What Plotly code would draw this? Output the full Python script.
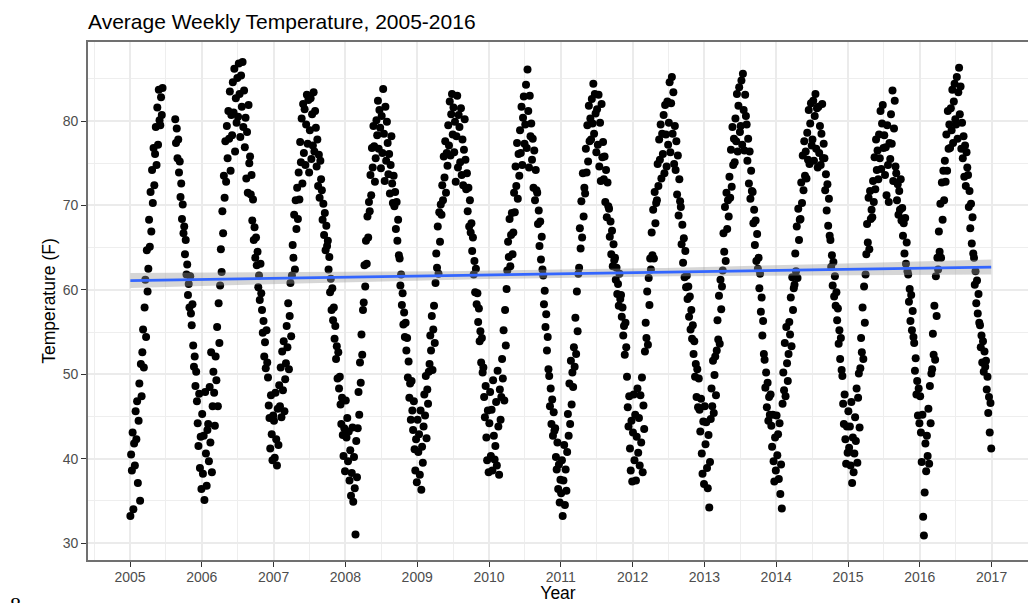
import plotly.graph_objects as go
import numpy as np

# ---- data (8 readings per month) ----
years = list(range(2005, 2017))

temps_2005 = [33.2, 40.5, 38.6, 43.1, 34.0, 41.8, 39.2, 45.6,
              42.3, 46.8, 37.1, 44.5, 48.9, 35.0, 51.2, 47.4,
              52.6, 55.3, 50.8, 57.9, 61.2, 54.4, 64.7, 59.8,
              62.5, 68.3, 65.1, 71.6, 66.9, 74.2, 70.3, 76.8,
              72.4, 76.1, 79.3, 74.8, 81.6, 77.2, 83.7, 80.1,
              79.5, 82.8, 80.7, 83.9, None, None, None, None,
              None, None, None, None, None, None, None, None,
              None, None, None, None, 80.2, 77.4, 79.1, 75.6,
              77.8, 73.9, 75.2, 71.0, 72.6, 68.4, 70.1, 66.7,
              67.5, 64.2, 65.9, 61.8, 63.0, 59.4, 60.7, 57.9,
              61.6, 57.2, 55.8, 58.3, 53.4, 50.9, 52.1, 48.6,
              50.3, 46.8, 44.2, 41.5, 47.7, 38.9, 42.6, 36.4]
temps_2006 = [45.3, 38.2, 42.7, 35.1, 47.9, 40.6, 36.8, 43.4,
              44.1, 39.7, 48.5, 41.9, 52.6, 38.4, 46.2, 50.3,
              47.8, 43.9, 52.1, 49.3, 55.6, 46.2, 58.4, 53.7,
              60.5, 64.8, 62.1, 69.3, 66.7, 73.5, 70.9, 77.6,
              72.8, 79.4, 75.6, 81.2, 77.9, 83.5, 74.1, 80.7,
              78.3, 84.6, 81.0, 86.2, 76.4, 82.7, 79.8, 85.1,
              80.5, 86.8, 83.2, 78.1, 85.4, 81.7, 87.0, 79.3,
              83.6, 76.9, 80.4, 73.2, 78.7, 71.5, 81.9, 75.0,
              75.8, 71.3, 73.6, 68.2, 70.7, 65.9, 67.4, 63.8,
              66.2, 62.9, 64.5, 60.3, 61.7, 58.8, 63.1, 59.6,
              57.6, 54.9, 56.3, 52.1, 53.8, 50.7, 55.2, 51.4,
              49.6, 46.3, 44.8, 41.2, 47.5, 42.9, 39.8, 45.1]
temps_2007 = [44.5, 40.1, 47.8, 42.3, 39.2, 45.9, 41.6, 48.7,
              46.2, 50.8, 44.9, 52.7, 48.1, 53.9, 45.6, 49.4,
              51.3, 55.7, 53.2, 58.4, 50.6, 56.9, 60.8, 54.5,
              61.7, 65.3, 63.8, 68.9, 62.4, 70.6, 67.2, 72.1,
              68.4, 73.9, 70.7, 77.5, 75.1, 80.3, 72.6, 82.0,
              76.2, 81.4, 74.8, 79.6, 83.1, 77.3, 82.5, 73.9,
              78.9, 82.7, 75.5, 80.8, 77.1, 83.4, 76.4, 81.2,
              79.2, 74.6, 77.8, 72.3, 76.0, 70.9, 75.3, 73.1,
              71.8, 68.3, 70.2, 66.5, 69.1, 64.7, 67.6, 65.2,
              65.8, 62.4, 63.9, 59.7, 61.3, 57.6, 60.2, 56.4,
              57.9, 54.2, 55.7, 51.8, 53.3, 49.5, 52.6, 48.3,
              49.7, 46.4, 44.1, 47.2, 42.8, 40.3, 43.6, 38.5]
temps_2008 = [46.9, 42.5, 44.8, 39.7, 43.2, 37.4, 41.0, 35.6,
              38.3, 43.7, 34.9, 40.2, 36.5, 31.0, 42.1, 37.8,
              43.6, 47.9, 45.2, 51.4, 49.0, 54.7, 52.3, 57.6,
              58.5, 62.9, 60.4, 65.8, 63.1, 68.7, 66.2, 70.4,
              69.3, 73.6, 71.2, 76.8, 74.5, 79.4, 77.0, 72.8,
              75.6, 80.1, 78.3, 82.4, 76.7, 81.3, 79.2, 74.4,
              80.6, 76.2, 83.8, 78.5, 72.9, 81.7, 75.3, 79.9,
              77.4, 73.7, 76.1, 71.4, 74.8, 78.2, 72.6, 70.3,
              73.5, 69.9, 71.6, 67.2, 70.4, 65.8, 68.3, 64.1,
              63.7, 60.5, 61.8, 58.2, 59.6, 55.9, 57.3, 54.4,
              56.1, 52.8, 54.3, 49.6, 51.5, 47.2, 48.9, 44.6,
              49.2, 45.7, 43.4, 46.8, 41.1, 38.6, 42.3, 37.2]
temps_2009 = [44.6, 40.8, 42.9, 38.1, 45.7, 36.3, 41.4, 39.5,
              43.8, 47.6, 45.1, 49.8, 42.4, 48.2, 46.5, 50.3,
              51.2, 54.6, 52.8, 56.9, 50.5, 55.3, 58.1, 53.7,
              60.8, 64.3, 62.6, 67.5, 61.9, 69.2, 65.7, 70.1,
              68.9, 72.4, 70.6, 75.8, 73.3, 77.6, 71.5, 76.2,
              74.7, 79.5, 77.1, 82.3, 75.9, 80.8, 83.2, 78.4,
              81.6, 76.3, 79.9, 72.8, 78.2, 83.0, 74.5, 80.7,
              79.3, 75.1, 81.5, 73.6, 77.8, 72.4, 76.6, 80.2,
              75.4, 71.9, 73.8, 69.3, 72.1, 67.5, 70.6, 66.8,
              67.9, 64.6, 66.2, 61.8, 63.4, 59.7, 62.5, 58.3,
              59.6, 56.2, 57.8, 53.9, 55.1, 51.4, 54.3, 50.2,
              50.8, 47.3, 44.9, 48.6, 42.5, 39.8, 45.7, 38.4]
temps_2010 = [44.2, 47.9, 40.3, 45.8, 38.6, 49.3, 42.7, 39.9,
              41.5, 46.7, 39.2, 50.4, 43.8, 38.1, 48.2, 44.6,
              47.3, 51.8, 49.5, 55.2, 46.9, 57.6, 53.4, 60.1,
              62.3, 65.7, 63.9, 68.4, 62.8, 66.5, 69.1, 64.2,
              66.8, 71.5, 69.2, 74.6, 72.3, 77.4, 70.8, 76.1,
              73.5, 78.9, 76.2, 81.7, 74.8, 80.4, 82.9, 77.3,
              79.6, 84.3, 76.8, 86.1, 81.2, 74.5, 83.0, 78.2,
              79.7, 75.4, 77.9, 72.1, 76.5, 70.6, 74.2, 71.8,
              71.5, 67.8, 69.4, 65.2, 68.1, 63.6, 66.3, 62.4,
              61.7, 58.3, 59.9, 55.6, 57.1, 52.8, 54.4, 50.6,
              49.8, 46.2, 48.3, 44.1, 47.0, 42.7, 45.5, 43.3,
              43.6, 40.2, 38.7, 41.9, 36.4, 39.3, 34.8, 37.5]
temps_2011 = [35.9, 39.8, 33.2, 37.4, 41.6, 34.5, 38.7, 36.2,
              40.8, 45.3, 42.7, 48.9, 44.1, 51.6, 46.4, 50.2,
              48.5, 53.2, 50.9, 56.7, 52.4, 59.8, 55.1, 61.9,
              62.6, 67.3, 64.9, 70.5, 66.2, 73.8, 68.7, 72.1,
              71.4, 76.7, 73.9, 79.5, 75.2, 81.8, 77.6, 80.3,
              77.8, 82.6, 79.7, 84.4, 78.5, 83.2, 80.9, 76.3,
              81.4, 77.2, 83.1, 74.6, 79.8, 72.9, 82.0, 75.7,
              77.5, 73.1, 75.8, 70.4, 74.2, 68.6, 72.7, 69.9,
              69.6, 66.3, 68.1, 64.2, 67.0, 62.8, 65.4, 63.5,
              63.8, 61.2, 62.6, 59.5, 60.7, 58.1, 61.9, 58.9,
              59.4, 56.8, 57.9, 54.6, 55.7, 52.3, 56.1, 53.2,
              49.7, 46.1, 43.8, 47.4, 41.2, 38.6, 44.5, 37.3]
temps_2012 = [43.1, 47.6, 39.8, 45.2, 37.4, 42.6, 48.3, 40.7,
              44.8, 39.2, 47.5, 41.9, 49.6, 38.4, 46.3, 43.5,
              52.7, 56.1, 54.3, 59.8, 53.5, 61.4, 58.2, 63.7,
              62.4, 66.8, 64.1, 69.5, 63.7, 71.6, 67.9, 70.3,
              70.6, 74.9, 72.3, 77.8, 75.4, 79.6, 73.2, 78.5,
              76.1, 80.7, 73.8, 81.9, 78.4, 74.6, 82.3, 77.2,
              79.8, 84.6, 76.3, 82.1, 85.2, 78.5, 83.4, 74.9,
              79.4, 74.2, 77.6, 71.3, 75.9, 68.8, 73.1, 70.5,
              69.8, 65.4, 67.7, 63.2, 66.1, 61.5, 64.6, 60.3,
              61.7, 58.9, 60.4, 56.8, 59.2, 55.3, 57.6, 54.2,
              55.8, 52.4, 53.9, 49.7, 51.2, 47.3, 50.6, 46.1,
              49.5, 45.8, 43.2, 47.1, 40.6, 38.2, 44.4, 37.0]
temps_2013 = [46.2, 41.7, 44.3, 38.9, 36.5, 42.8, 34.2, 39.6,
              44.7, 48.3, 46.2, 51.6, 45.4, 49.9, 52.1, 47.5,
              52.8, 56.4, 54.1, 59.3, 53.6, 61.2, 57.7, 60.4,
              62.3, 66.7, 64.5, 69.8, 63.4, 71.5, 67.2, 70.6,
              68.7, 73.4, 70.9, 76.6, 72.2, 79.3, 74.8, 77.9,
              75.1, 80.3, 77.6, 83.2, 76.4, 81.8, 84.0, 78.7,
              79.4, 84.8, 77.2, 85.6, 81.3, 76.5, 83.1, 80.6,
              79.6, 75.3, 77.9, 72.6, 76.4, 70.8, 74.1, 71.7,
              71.6, 67.9, 69.5, 65.3, 68.2, 63.4, 66.6, 62.5,
              63.8, 60.2, 61.9, 57.4, 59.1, 54.6, 56.3, 52.4,
              51.7, 48.4, 50.2, 46.1, 49.0, 44.5, 47.3, 45.2,
              47.6, 43.9, 41.4, 45.2, 39.7, 37.3, 42.5, 38.6]
temps_2014 = [45.1, 40.4, 42.9, 37.6, 44.2, 35.8, 39.3, 34.1,
              46.5, 50.2, 48.1, 53.7, 47.4, 55.6, 51.3, 49.2,
              52.4, 56.2, 54.7, 59.1, 53.3, 61.5, 57.6, 60.2,
              60.6, 64.3, 62.2, 67.5, 61.4, 69.6, 65.9, 68.3,
              68.4, 72.7, 70.3, 75.9, 71.8, 77.6, 73.5, 76.4,
              73.2, 78.6, 75.4, 81.3, 74.9, 79.7, 82.1, 77.1,
              77.8, 82.4, 75.3, 80.6, 83.2, 76.7, 81.5, 74.5,
              81.7, 76.2, 79.4, 74.8, 78.5, 82.0, 75.6, 77.3,
              75.6, 71.8, 73.7, 69.4, 72.5, 67.6, 70.8, 66.4,
              65.9, 62.7, 64.1, 60.5, 63.3, 59.2, 61.6, 58.1,
              59.7, 56.4, 57.8, 53.6, 55.2, 51.8, 54.3, 50.5,
              49.8, 46.5, 44.1, 47.6, 42.3, 39.4, 43.8, 40.7]
temps_2015 = [45.6, 41.3, 43.8, 39.2, 46.7, 37.1, 42.5, 38.4,
              40.6, 44.9, 42.1, 48.3, 39.5, 47.2, 50.1, 43.7,
              50.7, 54.3, 52.6, 57.9, 51.8, 60.4, 56.1, 61.8,
              64.2, 67.8, 65.6, 70.9, 64.8, 71.7, 68.4, 69.5,
              68.6, 72.9, 70.4, 75.7, 71.9, 77.8, 74.2, 76.5,
              73.1, 78.4, 75.6, 81.2, 74.3, 79.7, 81.9, 76.8,
              78.3, 73.6, 76.9, 71.2, 79.5, 74.8, 70.4, 77.4,
              75.5, 80.8, 77.3, 83.6, 72.9, 79.1, 82.4, 74.6,
              73.8, 70.6, 72.5, 68.9, 71.7, 69.5, 73.1, 68.2,
              69.7, 66.4, 67.9, 64.3, 68.5, 63.1, 65.6, 62.2,
              61.8, 58.6, 60.1, 56.3, 59.4, 55.2, 57.5, 54.4,
              53.7, 50.4, 51.9, 47.6, 49.2, 45.1, 48.3, 44.2]
temps_2016 = [47.4, 43.1, 39.6, 45.2, 33.1, 30.9, 36.0, 41.8,
              38.5, 42.7, 40.3, 45.9, 39.4, 48.6, 44.2, 50.1,
              50.6, 54.8, 52.3, 58.1, 51.7, 61.6, 56.9, 63.8,
              62.4, 66.9, 64.5, 70.2, 63.8, 72.7, 68.3, 74.1,
              70.6, 75.3, 72.8, 78.4, 74.1, 81.2, 76.7, 79.6,
              76.8, 81.5, 78.9, 83.7, 77.4, 82.3, 84.4, 80.2,
              79.6, 85.2, 77.9, 83.4, 86.3, 80.8, 84.1, 76.7,
              79.8, 75.6, 78.2, 73.4, 77.1, 72.3, 76.3, 74.5,
              73.6, 69.8, 71.7, 67.3, 70.2, 65.5, 68.6, 64.3,
              63.8, 60.6, 62.2, 58.4, 61.1, 57.2, 59.5, 56.1,
              55.8, 53.2, 54.6, 51.4, 53.9, 50.3, 52.7, 50.9,
              51.6, 48.2, 49.7, 45.4, 47.3, 43.1, 46.6, 41.2]

yearly_temps = [temps_2005, temps_2006, temps_2007, temps_2008, temps_2009, temps_2010,
                temps_2011, temps_2012, temps_2013, temps_2014, temps_2015, temps_2016]

# linear-trend (geom_smooth, method = "lm")
trend_temps = [61.1, 62.7]                     # fitted value at first / last observation
band_years = [2005, 2007, 2009, 2011, 2013, 2015, 2017]
band_halfwidth = [0.9, 0.69, 0.52, 0.45, 0.52, 0.69, 0.9]

x_ticks = list(range(2005, 2018))
y_ticks = [30, 40, 50, 60, 70, 80]

# ---- build observation table ----
obs_x, obs_y = [], []
for yr, vals in zip(years, yearly_temps):
    n = len(vals)
    for i, v in enumerate(vals):
        obs_x.append(yr + (i + 0.5) / n)
        obs_y.append(v)

x0, x1 = min(obs_x), max(obs_x)

def trend_at(x):
    return trend_temps[0] + (trend_temps[1] - trend_temps[0]) * (x - x0) / (x1 - x0)

bx = np.linspace(x0, x1, 120)
hw = np.interp(bx, band_years, band_halfwidth)
bmid = np.array([trend_at(v) for v in bx])
band_x = list(bx) + list(bx[::-1])
band_y = list(bmid + hw) + list((bmid - hw)[::-1])

fig = go.Figure()
fig.add_trace(go.Scatter(
    x=obs_x, y=obs_y, mode="markers",
    marker=dict(color="black", size=8, line=dict(width=0)),
    hoverinfo="x+y", showlegend=False))
fig.add_trace(go.Scatter(
    x=band_x, y=band_y, mode="lines", fill="toself",
    fillcolor="rgba(153,153,153,0.4)", line=dict(width=0),
    hoverinfo="skip", showlegend=False))
fig.add_trace(go.Scatter(
    x=[x0, x1], y=[trend_at(x0), trend_at(x1)], mode="lines",
    line=dict(color="#3366FF", width=2.8), showlegend=False))

FONT = "Liberation Sans, Arial, sans-serif"
fig.update_layout(
    width=1028, height=603,
    margin=dict(l=88, r=0, t=42, b=43),
    paper_bgcolor="white", plot_bgcolor="white",
    font=dict(family=FONT, color="#000000"),
    title=dict(text="Average Weekly Temperature, 2005-2016",
               x=88 / 1028, xanchor="left", xref="container",
               y=1 - 22 / 603, yanchor="middle", yref="container",
               font=dict(size=21, color="#000000", family=FONT)),
    showlegend=False,
)
fig.update_xaxes(
    range=[2004.415, 2017.507], tickvals=x_ticks, ticktext=[str(t) for t in x_ticks],
    showgrid=True, gridcolor="#EBEBEB", gridwidth=1.6,
    minor=dict(dtick=0.5, tick0=2004.5, showgrid=True, gridcolor="#EEEEEE", gridwidth=0.9, ticks=""),
    ticks="outside", ticklen=5, tickwidth=1, tickcolor="#333333",
    ticklabelstandoff=-2,
    tickfont=dict(size=14, color="#4D4D4D", family=FONT),
    showline=True, linecolor="#707070", linewidth=1.6, mirror=True,
    zeroline=False,
    title=dict(text="Year", font=dict(size=17.5, color="#000000", family=FONT), standoff=4),
)
fig.update_yaxes(
    range=[27.99, 89.36], tickvals=y_ticks, ticktext=[str(t) for t in y_ticks],
    showgrid=True, gridcolor="#EBEBEB", gridwidth=1.6,
    minor=dict(dtick=5, tick0=25, showgrid=True, gridcolor="#EEEEEE", gridwidth=0.9, ticks=""),
    ticks="outside", ticklen=5, tickwidth=1, tickcolor="#333333",
    tickfont=dict(size=14, color="#4D4D4D", family=FONT),
    showline=True, linecolor="#707070", linewidth=1.6, mirror=False,
    zeroline=False,
    title=dict(text="Temperature (F)", font=dict(size=17.5, color="#000000", family=FONT), standoff=3),
)
# stray glyph cut off at the bottom-left corner of the reference image
fig.add_annotation(text="8", xref="paper", yref="paper", x=-80 / 940, y=(560 - 590) / 518,
                   xanchor="left", yanchor="top", showarrow=False,
                   font=dict(family="Liberation Serif, serif", size=22, color="#000000"))

fig.write_html("out.html")
